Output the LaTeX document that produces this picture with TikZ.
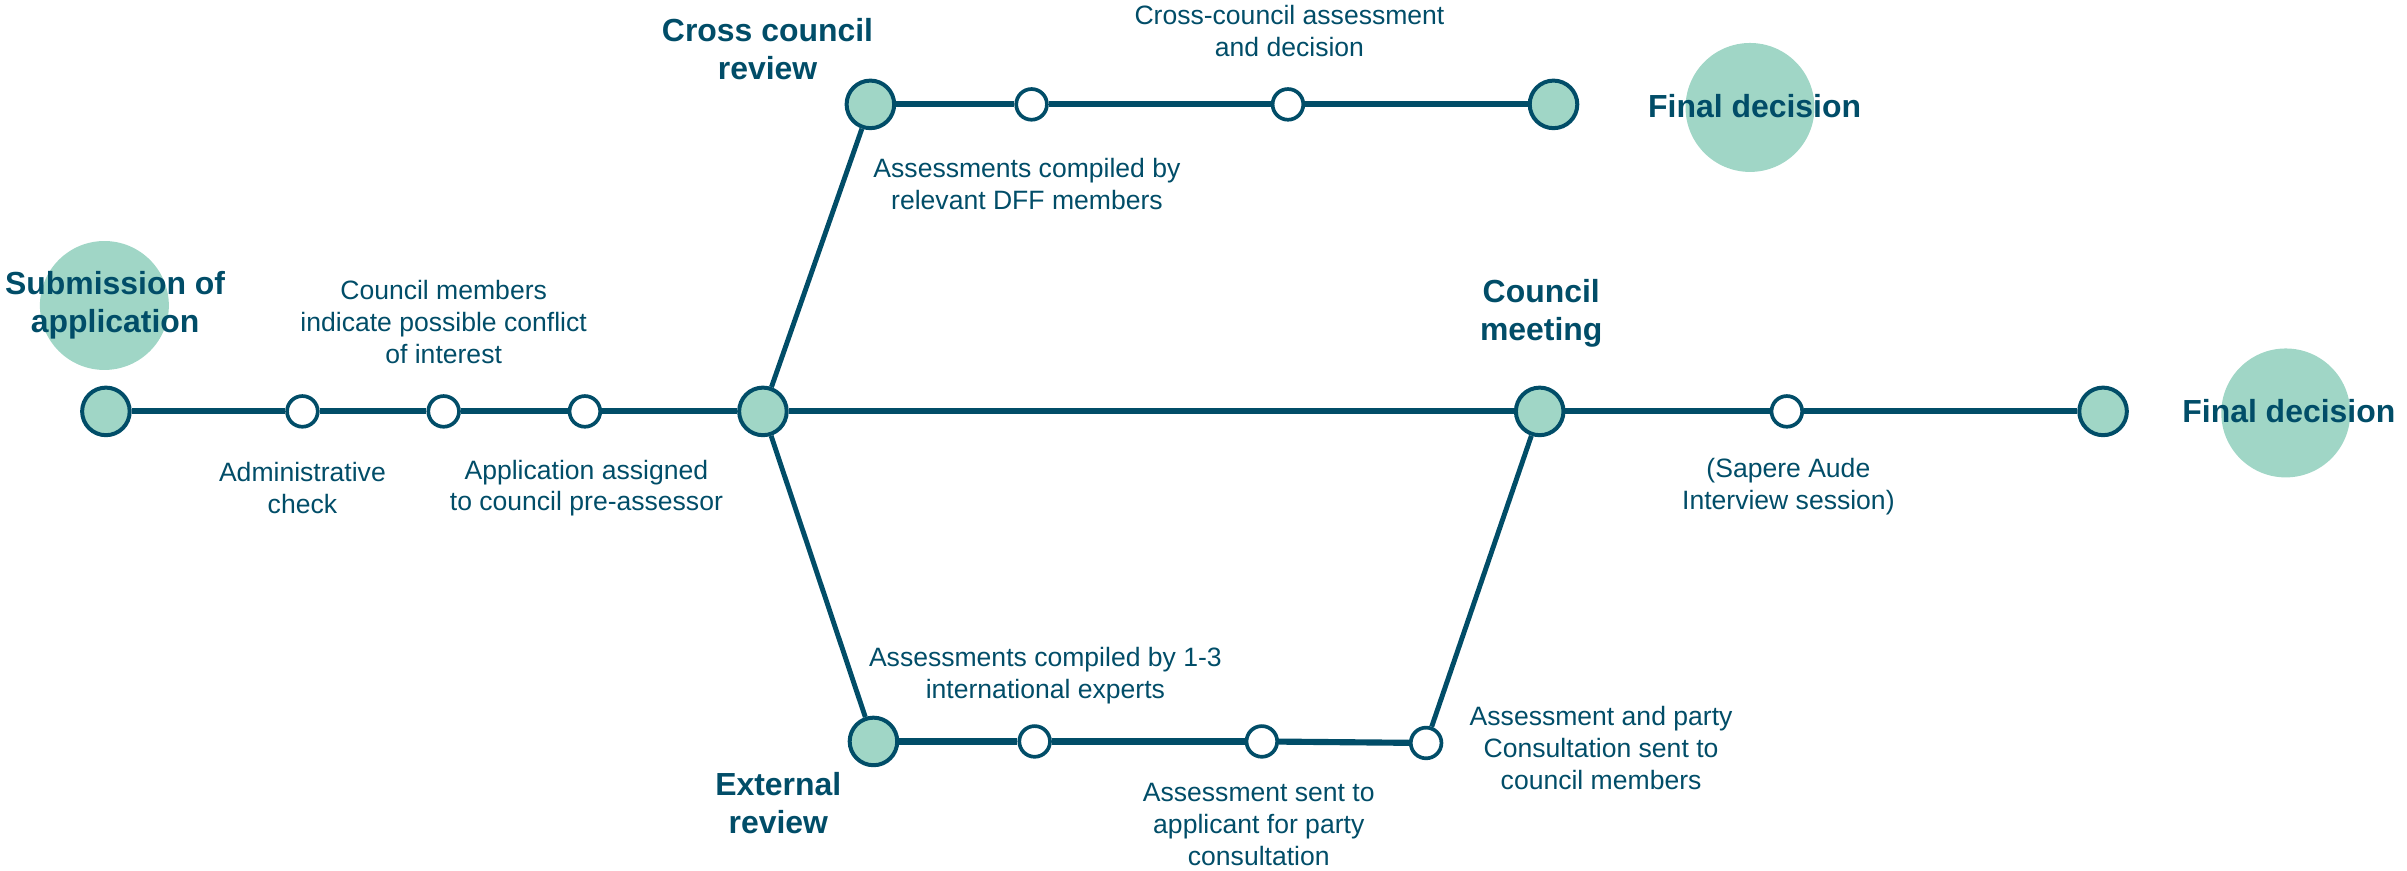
\documentclass[tikz,border=0pt]{standalone}
\usepackage{fontspec}
\setmainfont{Liberation Sans}
\definecolor{dffblue}{RGB}{1,77,104}
\definecolor{dffgreen}{RGB}{160,214,198}
\begin{document}
\begin{tikzpicture}[x=0.5pt,y=-0.5pt,
  bigstop/.style={circle,draw=dffblue,line width=1.3pt,fill=dffgreen,minimum size=15.5pt,inner sep=0pt},
  smallstop/.style={circle,draw=dffblue,line width=1.2pt,fill=white,minimum size=10pt,inner sep=0pt},
  halo/.style={circle,fill=dffgreen,minimum size=42pt,inner sep=0pt},
  track/.style={dffblue,line width=2pt},
  branch/.style={dffblue,line width=1.6pt},
  steptext/.style={text=dffblue,align=center,inner sep=0pt,font=\fontsize{8.65}{10.4}\selectfont},
  headtext/.style={text=dffblue,align=center,inner sep=0pt,font=\fontsize{10.4}{12.3}\selectfont\bfseries}]
\useasboundingbox (0,0) rectangle (1568,567);
% light circles behind the titles
 \node[halo] (h1) at (68,199) {};
 \node[halo] (h2) at (1140,70) {};
 \node[halo] (h3) at (1489,269) {};
% stops on the main line
 \node[bigstop] (s0) at (69,268) {};
 \node[smallstop] (s1) at (197,268) {};
 \node[smallstop] (s2) at (289,268) {};
 \node[smallstop] (s3) at (381,268) {};
 \node[bigstop] (j) at (497,268) {};
 \node[bigstop] (cm) at (1003,268) {};
 \node[smallstop] (s4) at (1164,268) {};
 \node[bigstop] (fd) at (1370,268) {};
% cross council track
 \node[bigstop] (c0) at (567,68) {};
 \node[smallstop] (c1) at (672,68) {};
 \node[smallstop] (c2) at (839,68) {};
 \node[bigstop] (c3) at (1012,68) {};
% external review track
 \node[bigstop] (e0) at (569,483) {};
 \node[smallstop] (e1) at (674,483) {};
 \node[smallstop] (e2) at (822,483) {};
 \node[smallstop] (e3) at (929,484) {};
% connectors
 \draw[track] (s0)--(s1);
 \draw[track] (s1)--(s2);
 \draw[track] (s2)--(s3);
 \draw[track] (s3)--(j);
 \draw[track] (j)--(cm);
 \draw[track] (cm)--(s4);
 \draw[track] (s4)--(fd);
 \draw[track] (c0)--(c1);
 \draw[track] (c1)--(c2);
 \draw[track] (c2)--(c3);
 \draw[track] (e0)--(e1);
 \draw[track] (e1)--(e2);
 \draw[track] (e2)--(e3);
 \draw[branch] (j)--(c0);
 \draw[branch] (j)--(e0);
 \draw[branch] (cm)--(e3);
% titles
 \node[headtext] (t1) at (75,199) {Submission of\\application};
 \node[headtext] (t2) at (500,32) {Cross council\\review};
 \node[headtext] (t3) at (1143,69) {Final decision};
 \node[headtext] (t4) at (1004,204) {Council\\meeting};
 \node[headtext] (t5) at (1491,268) {Final decision};
 \node[headtext] (t6) at (507,523) {External\\review};
% step texts
 \node[steptext] (l1) at (289,210) {Council members\\indicate possible conflict\\of interest};
 \node[steptext] (l2) at (197,318) {Administrative\\check};
 \node[steptext] (l3) at (382,318) {Application assigned\\to council pre-assessor};
 \node[steptext] (l4) at (840,20) {Cross-council assessment\\and decision};
 \node[steptext] (l5) at (669,120) {Assessments compiled by\\relevant DFF members};
 \node[steptext] (l6) at (1165,317) {(Sapere Aude\\Interview session)};
 \node[steptext] (l7) at (681,440) {Assessments compiled by 1-3\\international experts};
 \node[steptext] (l8) at (820,537) {Assessment sent to\\applicant for party\\consultation};
 \node[steptext] (l9) at (1043,487) {Assessment and party\\Consultation sent to\\council members};
\end{tikzpicture}
\end{document}
